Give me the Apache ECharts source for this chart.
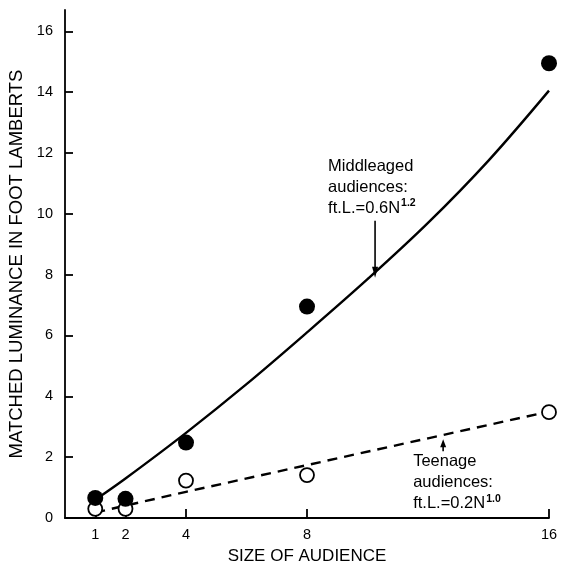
<!DOCTYPE html>
<html><head><meta charset="utf-8">
<script src="https://cdn.jsdelivr.net/npm/echarts@6/dist/echarts.min.js"></script>
<style>html,body{margin:0;padding:0;background:#fff}#c{width:566px;height:566px}</style>
</head><body><div id="c"></div>
<script>
const xTicks = [1, 2, 4, 8, 16];
const yTicks = [0, 2, 4, 6, 8, 10, 12, 14, 16];
const audienceSize = [1, 2, 4, 8, 16];
const middleagedLum = [0.66, 0.63, 2.48, 6.95, 14.95];
const teenageLum = [0.3, 0.3, 1.23, 1.41, 3.48];
const middleFitN = [1, 2, 4, 6, 8, 10, 12, 14, 16];
const middleFitLum = [0.6, 1.3, 2.8, 4.4, 6.1, 7.85, 9.7, 11.75, 14.05];
const teenFitN = [1, 4, 8, 12, 16];
const teenFitLum = [0.18, 0.86, 1.74, 2.62, 3.5];

const FONT = 'Liberation Sans';
const INK = '#000';
const chart = echarts.init(document.getElementById('c'), null, {renderer: 'canvas'});
const pairs = (xs, ys) => xs.map((x, i) => [x, ys[i]]);

chart.setOption({
  backgroundColor: '#fff',
  animation: false,
  grid: {left: 65, right: 17, top: 10, bottom: 48, containLabel: false, outerBoundsMode: 'none'},
  xAxis: {
    type: 'value', min: 0, max: 16,
    name: 'SIZE OF AUDIENCE', nameLocation: 'middle', nameGap: 30,
    nameTextStyle: {fontFamily: FONT, fontSize: 17, color: INK},
    axisLine: {show: true, lineStyle: {color: INK, width: 1.8}},
    axisTick: {show: true, inside: true, length: 9, customValues: xTicks, lineStyle: {color: INK, width: 1.8}},
    axisLabel: {show: true, customValues: xTicks, fontFamily: FONT, fontSize: 14.5, color: INK, margin: 9},
    splitLine: {show: false}
  },
  yAxis: {
    type: 'value', min: 0, max: 16.7,
    name: 'MATCHED LUMINANCE IN FOOT LAMBERTS', nameLocation: 'middle', nameGap: 39, nameRotate: 90,
    nameTextStyle: {fontFamily: FONT, fontSize: 18.5, color: INK},
    axisLine: {show: true, lineStyle: {color: INK, width: 1.8}},
    axisTick: {show: true, inside: true, length: 8, customValues: yTicks, lineStyle: {color: INK, width: 1.8}},
    axisLabel: {show: true, customValues: yTicks, fontFamily: FONT, fontSize: 14.5, color: INK, margin: 12},
    splitLine: {show: false}
  },
  series: [
    {name: 'Middleaged fit', type: 'line', data: pairs(middleFitN, middleFitLum), smooth: 0.35,
     showSymbol: false, lineStyle: {color: INK, width: 2.4}, z: 2},
    {name: 'Teenage fit', type: 'line', data: pairs(teenFitN, teenFitLum), smooth: false,
     showSymbol: false, lineStyle: {color: INK, width: 2.4, type: [10, 7]}, z: 2},
    {name: 'Middleaged', type: 'scatter', data: pairs(audienceSize, middleagedLum), symbol: 'circle',
     symbolSize: 16, itemStyle: {color: INK, opacity: 1}, z: 4},
    {name: 'Teenage', type: 'scatter', data: pairs(audienceSize, teenageLum), symbol: 'circle',
     symbolSize: 14, itemStyle: {color: '#fff', borderColor: INK, borderWidth: 1.8, opacity: 1}, z: 3}
  ]
});

// annotations anchored to data coordinates
const midTip = chart.convertToPixel({gridIndex: 0}, [10.25, 7.9]);
const teenTip = chart.convertToPixel({gridIndex: 0}, [12.5, 2.62]);
const txtStyle = (x, y, lines) => ({
  type: 'text', left: x, top: y, z: 10,
  style: {
    text: lines, fontFamily: FONT, fontSize: 16.5, lineHeight: 21, fill: INK,
    rich: {sup: {fontSize: 10.5, fontWeight: 'bold', verticalAlign: 'top', lineHeight: 21, fontFamily: FONT, fill: INK, padding: [0,0,9,1]}}
  }
});
const arrowDown = (x, y0, y1) => ([
  {type: 'line', z: 10, shape: {x1: x, y1: y0, x2: x, y2: y1 - 8}, style: {stroke: INK, lineWidth: 1.6}},
  {type: 'polygon', z: 10, shape: {points: [[x - 3, y1 - 11], [x + 3, y1 - 11], [x, y1]]}, style: {fill: INK}}
]);
const arrowUp = (x, y0, y1) => ([
  {type: 'line', z: 10, shape: {x1: x, y1: y0, x2: x, y2: y1 + 7}, style: {stroke: INK, lineWidth: 1.6}},
  {type: 'polygon', z: 10, shape: {points: [[x - 3, y1 + 8], [x + 3, y1 + 8], [x, y1]]}, style: {fill: INK}}
]);

chart.setOption({
  graphic: [
    txtStyle(midTip[0] - 47, midTip[1] - 122, 'Middleaged\naudiences:\nft.L.=0.6N{sup|1.2}'),
    ...arrowDown(midTip[0], midTip[1] - 57, midTip[1]),
    txtStyle(teenTip[0] - 30, teenTip[1] + 13, 'Teenage\naudiences:\nft.L.=0.2N{sup|1.0}'),
    ...arrowUp(teenTip[0], teenTip[1] + 13, teenTip[1] + 1)
  ]
});
</script>
</body></html>
